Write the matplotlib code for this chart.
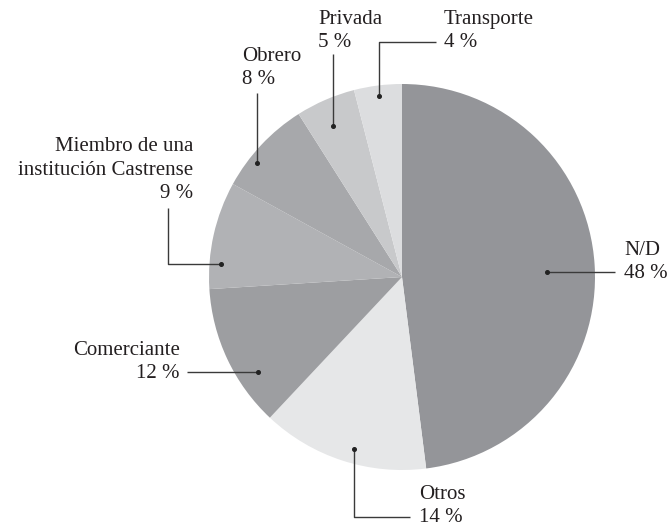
import numpy as np
import matplotlib
matplotlib.use("Agg")
import matplotlib.pyplot as plt

# Occupation shares (percent), clockwise from 12 o'clock
categories = ["N/D", "Otros", "Comerciante", "Miembro de una\ninstitución Castrense",
              "Obrero", "Privada", "Transporte"]
shares = [48, 14, 12, 9, 8, 5, 4]
colors = ["#949599", "#e6e7e8", "#9d9ea1", "#b1b2b5", "#a7a8ab", "#c8c9cb", "#dcdddf"]

W, H = 671, 529
fig = plt.figure(figsize=(W / 100, H / 100), dpi=100)
ax = fig.add_axes([0, 0, 1, 1])


def Y(y):
    """Convert a top-down pixel row to the axes' bottom-up coordinate."""
    return H - y


cx, cy, R = 402, 277, 193
wedges, _ = ax.pie(shares, colors=colors, startangle=90, counterclock=False,
                   center=(cx, Y(cy)), radius=R, frame=True,
                   wedgeprops=dict(linewidth=0))
ax.set_xlim(0, W)
ax.set_ylim(0, H)
ax.set_aspect("equal")
ax.axis("off")

FONT = dict(family=["Liberation Serif", "DejaVu Serif"], size=15, color="#231f20")
LS = 1.32
LINE = dict(color="#3a3a3a", lw=1.0)


def label_text(i):
    return f"{categories[i]}\n{shares[i]} %"


def dot_at(i, frac, dang=0.0):
    """Point inside wedge i (top-down pixels), along its mid angle."""
    w = wedges[i]
    mid = np.deg2rad((w.theta1 + w.theta2) / 2 + dang)
    return cx + frac * R * np.cos(mid), cy - frac * R * np.sin(mid)


def leader(points):
    xs = [p[0] for p in points]
    ys = [Y(p[1]) for p in points]
    ax.plot(xs, ys, **LINE, solid_capstyle="butt")
    ax.plot(xs[-1], ys[-1], "o", ms=2.6, color="#222222")


def label(x, y_base, i, ha):
    ax.text(x, Y(y_base), label_text(i), ha=ha, va="baseline",
            linespacing=LS, **FONT)


# N/D
x, y = dot_at(0, 0.752, -1.6)
leader([(615, y), (x, y)])
label(624, 278, 0, "left")

# Otros
x, y = dot_at(1, 0.925, 2.4)
leader([(410, 517), (x, 517), (x, y)])
label(419, 522, 1, "left")

# Comerciante
x, y = dot_at(2, 0.894, 8.2)
leader([(187, y), (x, y)])
label(180, 378, 2, "right")

# Miembro de una institución Castrense
x, y = dot_at(3, 0.94, 8.5)
leader([(168, 208), (168, y), (x, y)])
label(193, 198, 3, "right")

# Obrero
x, y = dot_at(4, 0.955, 5.0)
leader([(x, 93), (x, y)])
label(242, 84, 4, "left")

# Privada
x, y = dot_at(5, 0.86, 1.2)
leader([(x, 54), (x, y)])
label(318, 47, 5, "left")

# Transporte
x, y = dot_at(6, 0.945, 0.0)
leader([(436, 42), (x, 42), (x, y)])
label(444, 47, 6, "left")

fig.savefig("out.png", dpi=100, facecolor="white")
